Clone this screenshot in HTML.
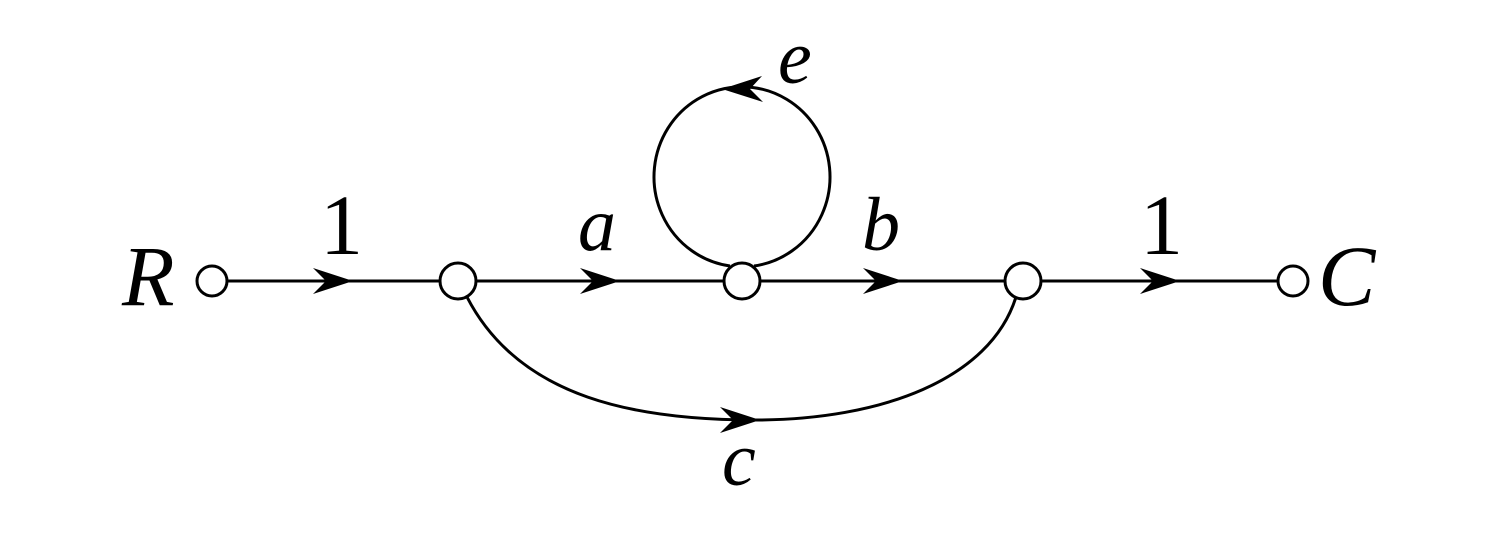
<!DOCTYPE html>
<html><head><style>html,body{margin:0;padding:0;background:#fff}svg{display:block}
.t{font-family:"Liberation Serif","DejaVu Serif",serif}</style></head>
<body>
<svg width="1501" height="557" viewBox="0 0 1501 557" xmlns="http://www.w3.org/2000/svg">
<g stroke="#000" stroke-width="3" fill="none">
<line x1="227" y1="281" x2="440" y2="281"/>
<line x1="476" y1="281" x2="724" y2="281"/>
<line x1="760" y1="281" x2="1005" y2="281"/>
<line x1="1041" y1="281" x2="1278" y2="281"/>
<circle cx="212" cy="281" r="15"/>
<circle cx="458" cy="281" r="18"/>
<circle cx="742" cy="281" r="18"/>
<circle cx="1023" cy="281" r="18"/>
<circle cx="1293" cy="281" r="15"/>
<path d="M730,266 A88,90 0 1 1 754,266"/>
<path d="M467,297 C520,400 640,420 755,420 C880,420 990,380 1016,297"/>
</g>
<g fill="#000">
<path d="M353,281 L313,268 L326,281 L313,294 Z"/>
<path d="M620,281 L580,268 L593,281 L580,294 Z"/>
<path d="M903,281 L863,268 L876,281 L863,294 Z"/>
<path d="M1180,281 L1140,268 L1153,281 L1140,294 Z"/>
<path d="M722,89 L762,76 L750,89 L763,102 Z"/>
<path d="M760,420 L720,407 L733,420 L720,433 Z"/>
</g>
<g class="t" fill="#000">
<text x="122" y="305" font-size="86" font-style="italic">R</text>
<text x="1318" y="305" font-size="86" font-style="italic">C</text>
<text x="320" y="254" font-size="86">1</text>
<text x="1140" y="254" font-size="86">1</text>
<text x="578" y="250" font-size="76" font-style="italic">a</text>
<text x="862" y="250" font-size="76" font-style="italic">b</text>
<text x="778" y="83" font-size="76" font-style="italic">e</text>
<text x="722" y="485" font-size="76" font-style="italic">c</text>
</g>
</svg>
</body></html>
